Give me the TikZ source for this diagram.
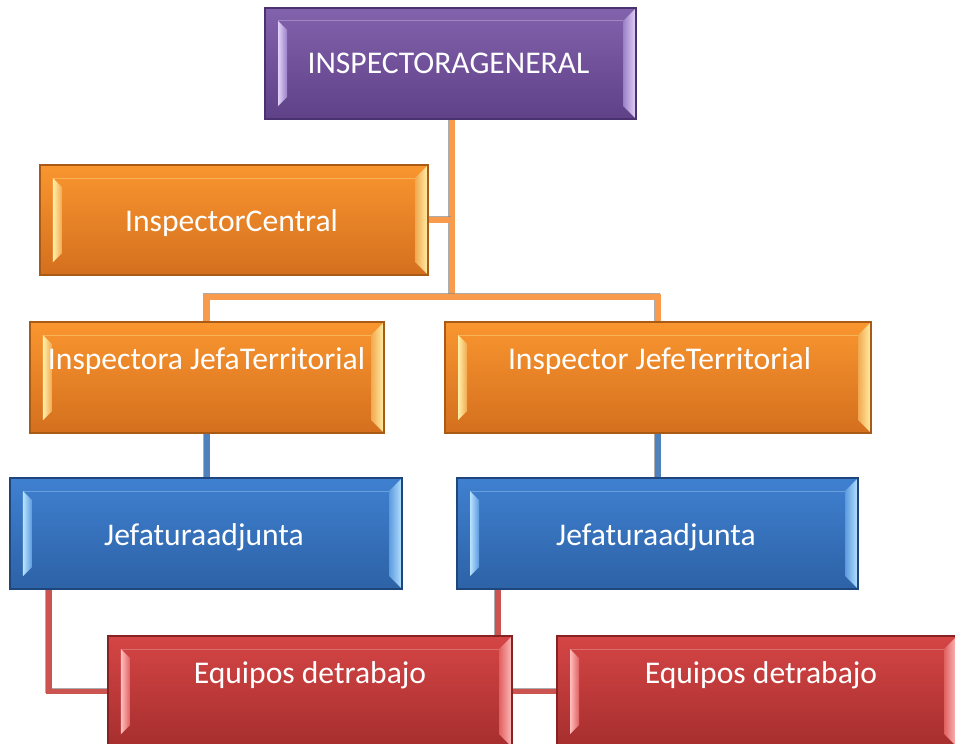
\documentclass[tikz,border=0pt]{standalone}
\usepackage{fontspec}
\setmainfont{Carlito}
\usetikzlibrary{calc,backgrounds}
\definecolor{pTop}{HTML}{8262AC}
\definecolor{pBot}{HTML}{5F4188}
\definecolor{pBrd}{HTML}{4A3170}
\definecolor{pLt}{HTML}{E2D2FA}
\definecolor{pMd}{HTML}{9C80C6}
\definecolor{oTop}{HTML}{F9962F}
\definecolor{oBot}{HTML}{D46F1E}
\definecolor{oBrd}{HTML}{A95A15}
\definecolor{oLt}{HTML}{FFF0A8}
\definecolor{oMd}{HTML}{F2A850}
\definecolor{bTop}{HTML}{3F80D0}
\definecolor{bBot}{HTML}{2D62A6}
\definecolor{bBrd}{HTML}{1E467C}
\definecolor{bLt}{HTML}{B8E2FF}
\definecolor{bMd}{HTML}{5C9ADF}
\definecolor{rTop}{HTML}{D54545}
\definecolor{rBot}{HTML}{A62E2E}
\definecolor{rBrd}{HTML}{862222}
\definecolor{rLt}{HTML}{FFBDBD}
\definecolor{rMd}{HTML}{E06060}
\definecolor{oLine}{HTML}{F89B4C}
\definecolor{bLine}{HTML}{4F81BD}
\definecolor{rLine}{HTML}{CC5450}
\definecolor{shad}{HTML}{8A8A8A}
\tikzset{
  bevelbox/.style n args={5}{rectangle, inner sep=0pt, line width=1.2bp,
    draw=#3, top color=#1, bottom color=#2,
    path picture={
      \coordinate (pnw) at (path picture bounding box.north west);
      \coordinate (pne) at (path picture bounding box.north east);
      \coordinate (psw) at (path picture bounding box.south west);
      \coordinate (pse) at (path picture bounding box.south east);
      \shade[left color=#4, right color=#5]
        ($(pnw)+(13,13)$) -- ($(pnw)+(22,22)$) -- ($(psw)+(22,-22)$) -- ($(psw)+(13,-13)$) -- cycle;
      \shade[left color=#5, right color=#4]
        ($(pne)+(-13,13)$) -- (pne) -- (pse) -- ($(pse)+(-13,-13)$) -- cycle;
      \draw[#4, opacity=0.35, line width=1bp] ($(pnw)+(13,13)$) -- ($(pne)+(-13,13)$);
    }},
  purplebox/.style={bevelbox={pTop}{pBot}{pBrd}{pLt}{pMd}},
  orangebox/.style={bevelbox={oTop}{oBot}{oBrd}{oLt}{oMd}},
  bluebox/.style={bevelbox={bTop}{bBot}{bBrd}{bLt}{bMd}},
  redbox/.style={bevelbox={rTop}{rBot}{rBrd}{rLt}{rMd}},
  lbl/.style={anchor=base, inner sep=0pt, text=white, font=\fontsize{31.6bp}{38bp}\selectfont},
  conn/.style={line width=5.5bp, draw=#1,
    preaction={draw=shad, opacity=0.7, line width=5.5bp, transform canvas={shift={(-0.8bp,0.8bp)}}}},
  oconn/.style={conn=oLine},
  bconn/.style={conn=bLine},
  rconn/.style={conn=rLine}
}
\begin{document}
\begin{tikzpicture}[x=1bp, y=-1bp]
\useasboundingbox (0,0) rectangle (955,744);
\clip (0,0) rectangle (955,744);

% boxes
\node[purplebox, minimum width=371bp, minimum height=111bp] (gen) at (450.5,63.5) {};
\node[orangebox, minimum width=388bp, minimum height=110bp] (cen) at (234,220) {};
\node[orangebox, minimum width=354bp, minimum height=111bp] (ol) at (207,377.5) {};
\node[orangebox, minimum width=426bp, minimum height=111bp] (orr) at (658,377.5) {};
\node[bluebox, minimum width=392bp, minimum height=111bp] (bl) at (206,533.5) {};
\node[bluebox, minimum width=401bp, minimum height=111bp] (br) at (657.5,533.5) {};
\node[redbox, minimum width=404bp, minimum height=111bp] (rl) at (310,691.5) {};
\node[redbox, minimum width=400bp, minimum height=111bp] (rr) at (757,691.5) {};

% labels
\node[lbl] (tgen) at (448.5,74) {INSPECTORAGENERAL};
\node[lbl] (tcen) at (231.5,231) {InspectorCentral};
\node[lbl] (tol) at (206.5,369) {Inspectora JefaTerritorial};
\node[lbl] (tor) at (659.5,369) {Inspector JefeTerritorial};
\node[lbl] (tbl) at (204,545) {Jefaturaadjunta};
\node[lbl] (tbr) at (656,545) {Jefaturaadjunta};
\node[lbl] (trl) at (310,683) {Equipos detrabajo};
\node[lbl] (trr) at (761,683) {Equipos detrabajo};

% connector coordinates
\coordinate (j1) at (452,297);
\coordinate (bls) at (49,589);
\coordinate (brs) at (498,589);

\begin{scope}[on background layer]
\fill[white] (0,0) rectangle (955,744);
\draw[oconn] (gen.south -| j1) -- (j1);
\draw[oconn] (cen.east) -- (cen.east -| j1);
\draw[oconn] (ol.north) |- (j1) -| (orr.north);
\draw[bconn] (ol.south) -- (ol.south |- bl.north);
\draw[bconn] (orr.south) -- (orr.south |- br.north);
\draw[rconn] (bls) |- (rl.west);
\draw[rconn] (brs) |- (rr.west);
\end{scope}
\end{tikzpicture}
\end{document}
